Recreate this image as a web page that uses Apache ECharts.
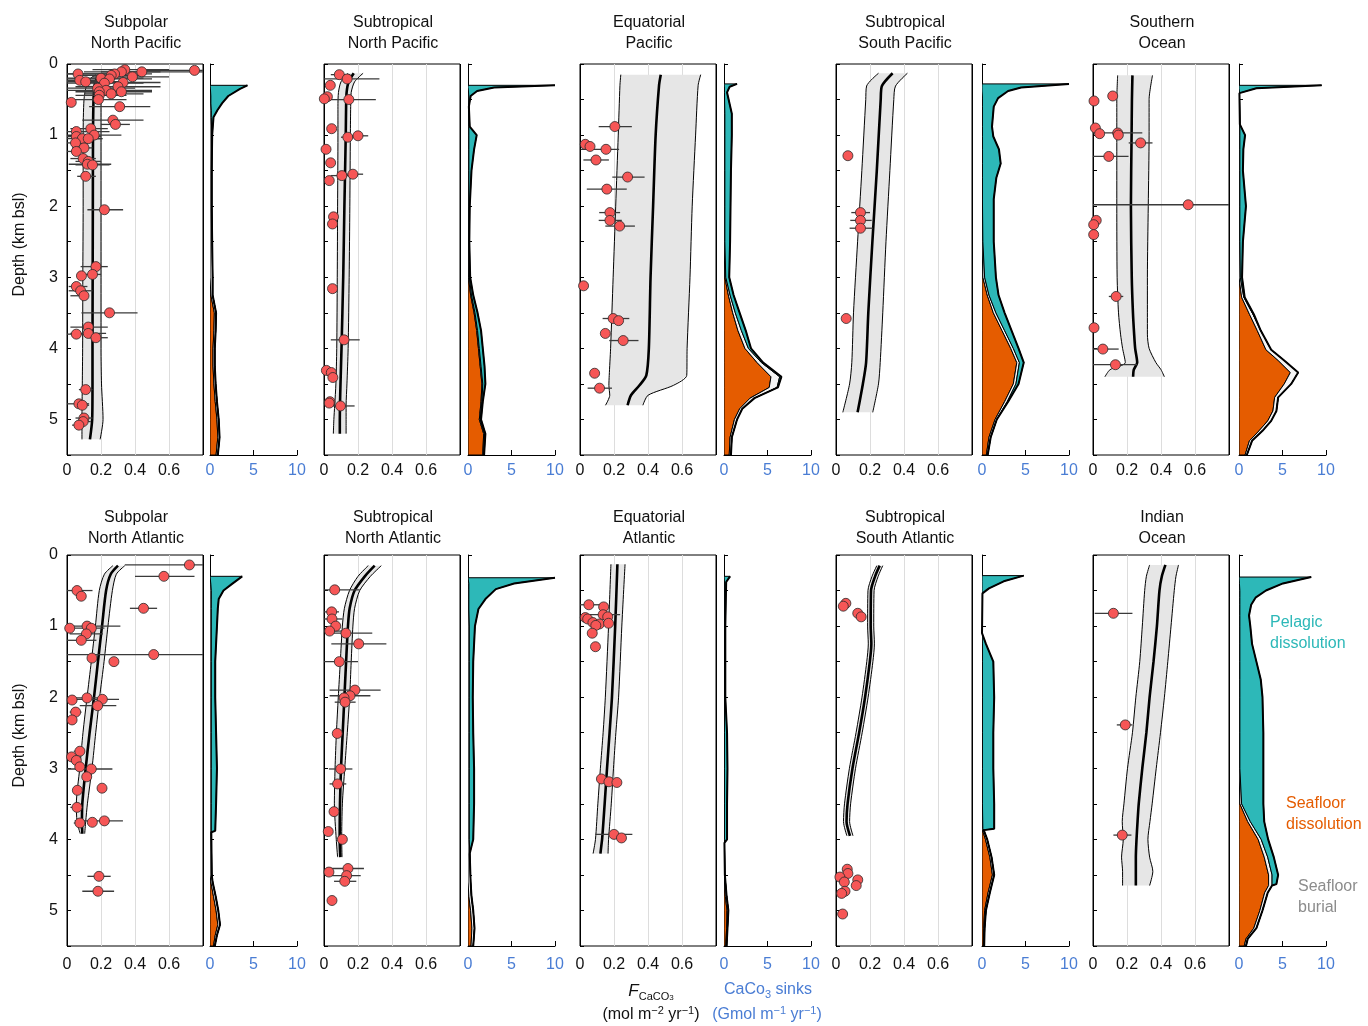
<!DOCTYPE html>
<html>
<head>
<meta charset="utf-8">
<title>CaCO3 flux and sinks by basin</title>
<script src="https://cdn.jsdelivr.net/npm/echarts@6/dist/echarts.min.js"></script>
<style>
  html, body { margin: 0; padding: 0; background: #fff; }
  #chart { width: 1368px; height: 1026px; }
</style>
</head>
<body>
<div id="chart"></div>
<script>
// flux points: [flux, depth, errLow, errHigh]  (null = no bar)
const spnpPoints = [
  [0.75, 0.09, 0.47, 0.8], [0.44, 0.11, 0.2, 0.8], [0.34, 0.08, 0.15, 0.6], [0.32, 0.11, 0.1, 0.55],
  [0.065, 0.14, 0, 0.35], [0.385, 0.18, 0.15, 0.6], [0.28, 0.14, 0, 0.5], [0.26, 0.16, 0.05, 0.45],
  [0.2, 0.2, 0, 0.45], [0.075, 0.23, 0, 0.25], [0.11, 0.25, 0, 0.3], [0.25, 0.21, 0, 0.5],
  [0.33, 0.26, 0.05, 0.55], [0.22, 0.27, 0, 0.45], [0.3, 0.32, 0.05, 0.55], [0.18, 0.34, 0, 0.4],
  [0.23, 0.37, 0, 0.5], [0.19, 0.39, 0.05, 0.35], [0.26, 0.42, 0.1, 0.45], [0.32, 0.39, 0.1, 0.5],
  [0.19, 0.44, 0.05, 0.35], [0.185, 0.5, 0, 0.35], [0.025, 0.54, null, null], [0.31, 0.6, 0.13, 0.49],
  [0.27, 0.79, 0.09, 0.45], [0.285, 0.85, 0.2, 0.37], [0.14, 0.91, 0.02, 0.24], [0.055, 0.95, 0, 0.25],
  [0.16, 1.0, 0, 0.32], [0.055, 1.02, 0, 0.2], [0.09, 1.05, 0, 0.2], [0.125, 1.05, 0.04, 0.21],
  [0.05, 1.11, 0, 0.12], [0.1, 1.18, 0.03, 0.15], [0.055, 1.23, 0, 0.1], [0.095, 1.33, 0.02, 0.17],
  [0.125, 1.37, 0.05, 0.2], [0.12, 1.41, 0.01, 0.26], [0.15, 1.42, 0.05, 0.25], [0.11, 1.58, 0.06, 0.17],
  [0.22, 2.05, 0.12, 0.33], [0.17, 2.85, 0.08, 0.24], [0.15, 2.96, 0.08, 0.2], [0.085, 2.98, null, null],
  [0.055, 3.13, 0.01, 0.12], [0.08, 3.19, 0.01, 0.15], [0.1, 3.26, 0.02, 0.12], [0.25, 3.5, 0.085, 0.415],
  [0.125, 3.7, 0.02, 0.24], [0.055, 3.8, 0, 0.1], [0.125, 3.79, 0.02, 0.23], [0.17, 3.85, 0.13, 0.24],
  [0.11, 4.58, 0.07, 0.15], [0.07, 4.78, 0, 0.13], [0.09, 4.8, 0.05, 0.13], [0.1, 4.98, 0.05, 0.15],
  [0.095, 5.03, 0.05, 0.14], [0.07, 5.08, 0.03, 0.1]
]
const stnpPoints = [
  [0.09, 0.15, 0.04, 0.155], [0.136, 0.21, 0, 0.326], [0.037, 0.3, null, null], [0.02, 0.46, null, null],
  [0.002, 0.49, null, null], [0.146, 0.5, 0, 0.305], [0.045, 0.91, null, null], [0.14, 1.03, 0.1, 0.2],
  [0.2, 1.01, 0.13, 0.26], [0.012, 1.2, null, null], [0.039, 1.39, null, null], [0.105, 1.57, 0.04, 0.2],
  [0.17, 1.55, 0.1, 0.23], [0.031, 1.64, null, null], [0.056, 2.15, 0.04, 0.08], [0.05, 2.25, null, null],
  [0.05, 3.16, null, null], [0.118, 3.88, 0.04, 0.21], [0.014, 4.31, null, null], [0.043, 4.34, null, null],
  [0.052, 4.41, null, null], [0.035, 4.75, 0.01, 0.06], [0.031, 4.77, null, null], [0.097, 4.81, 0.02, 0.18]
]
const eqpPoints = [
  [0.205, 0.88, 0.11, 0.305], [0.031, 1.13, null, null], [0.059, 1.16, null, null], [0.153, 1.2, 0.005, 0.23],
  [0.094, 1.35, 0.02, 0.17], [0.28, 1.59, 0.19, 0.38], [0.158, 1.76, 0.04, 0.275], [0.176, 2.09, 0.113, 0.236],
  [0.176, 2.2, 0.11, 0.246], [0.233, 2.28, 0.149, 0.323], [0.021, 3.12, null, null], [0.195, 3.58, 0.133, 0.29],
  [0.227, 3.61, null, null], [0.149, 3.79, 0.123, 0.168], [0.254, 3.89, 0.172, 0.344], [0.086, 4.35, 0.059, 0.11],
  [0.115, 4.56, 0.045, 0.188]
]
const stspPoints = [
  [0.07, 1.29, null, null], [0.144, 2.09, 0.09, 0.2], [0.144, 2.2, 0.084, 0.21], [0.144, 2.31, 0.08, 0.216],
  [0.06, 3.58, null, null]
]
const soPoints = [
  [0.116, 0.45, null, null], [0.006, 0.52, null, null], [0.014, 0.9, null, null], [0.039, 0.98, null, null],
  [0.145, 0.97, 0, 0.29], [0.149, 1.0, null, null], [0.28, 1.11, 0.21, 0.35], [0.093, 1.3, 0, 0.209],
  [0.56, 1.98, 0, 0.8], [0.019, 2.2, null, null], [0.004, 2.26, null, null], [0.004, 2.4, null, null],
  [0.136, 3.27, 0.093, 0.178], [0.006, 3.71, null, null], [0.058, 4.01, 0, 0.151], [0.132, 4.23, 0, 0.26]
]
const spnaPoints = [
  [0.72, 0.14, 0.34, 0.8], [0.57, 0.3, 0.4, 0.75], [0.059, 0.5, 0, 0.15], [0.084, 0.58, null, null],
  [0.45, 0.75, 0.37, 0.53], [0.016, 1.03, null, null], [0.118, 1.0, 0, 0.314], [0.143, 1.03, 0.02, 0.22],
  [0.114, 1.11, 0.016, 0.212], [0.084, 1.2, 0, 0.173], [0.51, 1.4, 0, 0.8], [0.147, 1.45, null, null],
  [0.276, 1.5, null, null], [0.03, 2.04, null, null], [0.118, 2.01, 0, 0.2], [0.208, 2.03, 0, 0.306],
  [0.18, 2.12, 0.075, 0.29], [0.051, 2.21, 0.016, 0.085], [0.03, 2.32, null, null], [0.076, 2.76, 0.04, 0.1],
  [0.027, 2.84, null, null], [0.055, 2.89, null, null], [0.075, 2.98, null, null], [0.143, 3.01, 0, 0.267],
  [0.116, 3.12, null, null], [0.061, 3.31, null, null], [0.206, 3.28, null, null], [0.059, 3.55, 0.02, 0.07],
  [0.076, 3.77, 0.04, 0.1], [0.149, 3.76, null, null], [0.22, 3.74, 0.045, 0.329], [0.188, 4.52, 0.12, 0.257],
  [0.182, 4.73, 0.09, 0.277]
]
const stnaPoints = [
  [0.063, 0.49, 0, 0.21], [0.045, 0.8, 0, 0.088], [0.047, 0.9, 0, 0.108], [0.069, 1.0, null, null],
  [0.033, 1.07, 0.004, 0.112], [0.129, 1.1, 0.014, 0.284], [0.204, 1.25, 0.043, 0.367], [0.09, 1.5, 0, 0.2],
  [0.182, 1.9, 0.033, 0.333], [0.153, 1.98, 0.033, 0.273], [0.118, 2.01, null, null], [0.124, 2.07, 0.063, 0.186],
  [0.078, 2.51, null, null], [0.098, 3.01, 0.029, 0.167], [0.08, 3.22, 0.033, 0.131], [0.059, 3.61, null, null],
  [0.025, 3.89, null, null], [0.108, 4.0, null, null], [0.141, 4.41, 0.033, 0.235], [0.029, 4.46, null, null],
  [0.133, 4.51, 0.043, 0.216], [0.122, 4.59, 0.059, 0.19], [0.047, 4.86, null, null]
]
const eqaPoints = [
  [0.052, 0.7, 0, 0.139], [0.139, 0.73, null, null], [0.136, 0.84, 0.023, 0.236], [0.163, 0.87, null, null],
  [0.031, 0.88, null, null], [0.045, 0.9, null, null], [0.076, 0.95, null, null], [0.114, 0.97, null, null],
  [0.168, 0.96, null, null], [0.093, 0.99, null, null], [0.072, 1.1, null, null], [0.091, 1.29, null, null],
  [0.126, 3.15, null, null], [0.17, 3.19, null, null], [0.217, 3.2, null, null], [0.2, 3.93, 0.091, 0.308],
  [0.244, 3.98, null, null]
]
const stsaPoints = [
  [0.058, 0.68, null, null], [0.043, 0.72, null, null], [0.128, 0.82, null, null], [0.148, 0.87, null, null],
  [0.066, 4.42, null, null], [0.07, 4.48, null, null], [0.023, 4.53, null, null], [0.128, 4.57, null, null],
  [0.049, 4.6, null, null], [0.119, 4.65, null, null], [0.053, 4.73, null, null], [0.033, 4.76, null, null],
  [0.039, 5.05, null, null]
]
const ioPoints = [
  [0.12, 0.82, 0.01, 0.232], [0.19, 2.39, 0.14, 0.232], [0.172, 3.94, 0.12, 0.226]
]

// model flux envelope: [depth, low, median, high]
const spnpBand = [
  [0.15, 0.17, 0.19, 0.22], [0.2, 0.14, 0.175, 0.212], [0.3, 0.115, 0.162, 0.205], [0.5, 0.1, 0.156, 0.2],
  [1.0, 0.095, 0.153, 0.2], [2.0, 0.095, 0.152, 0.2], [3.0, 0.093, 0.151, 0.2], [4.0, 0.092, 0.15, 0.2],
  [4.5, 0.09, 0.15, 0.203], [5.0, 0.088, 0.148, 0.212], [5.28, 0.088, 0.135, 0.195]
]
const stnpBand = [
  [0.13, 0.14, 0.175, 0.23], [0.25, 0.1, 0.145, 0.18], [0.4, 0.085, 0.133, 0.16], [0.6, 0.082, 0.13, 0.157],
  [1.0, 0.082, 0.128, 0.155], [2.0, 0.08, 0.12, 0.152], [3.0, 0.078, 0.113, 0.148], [4.0, 0.075, 0.103, 0.142],
  [4.5, 0.07, 0.097, 0.135], [4.8, 0.063, 0.094, 0.13], [5.0, 0.058, 0.093, 0.13], [5.2, 0.055, 0.093, 0.13]
]
const eqpBand = [
  [0.15, 0.24, 0.475, 0.71], [0.3, 0.235, 0.465, 0.695], [1.0, 0.225, 0.445, 0.68], [2.0, 0.21, 0.43, 0.66],
  [3.0, 0.195, 0.415, 0.647], [4.0, 0.18, 0.405, 0.63], [4.38, 0.172, 0.39, 0.628], [4.52, 0.17, 0.35, 0.55],
  [4.66, 0.175, 0.3, 0.4], [4.8, 0.15, 0.28, 0.37]
]
const stspBand = [
  [0.13, 0.25, 0.333, 0.42], [0.31, 0.18, 0.27, 0.35], [0.5, 0.175, 0.263, 0.34], [1.5, 0.152, 0.24, 0.317],
  [2.5, 0.127, 0.214, 0.294], [3.5, 0.103, 0.19, 0.275], [4.2, 0.093, 0.177, 0.26], [4.5, 0.08, 0.158, 0.25],
  [4.9, 0.04, 0.127, 0.216]
]
const soBand = [
  [0.16, 0.145, 0.232, 0.35], [0.5, 0.14, 0.229, 0.33], [1.0, 0.14, 0.227, 0.33], [2.0, 0.14, 0.223, 0.325],
  [3.0, 0.142, 0.228, 0.32], [3.5, 0.15, 0.235, 0.32], [3.8, 0.162, 0.242, 0.32], [4.0, 0.174, 0.248, 0.33],
  [4.2, 0.19, 0.26, 0.37], [4.3, 0.1, 0.24, 0.4], [4.4, 0.07, 0.236, 0.42]
]
const spnaBand = [
  [0.15, 0.27, 0.3, 0.34], [0.27, 0.22, 0.257, 0.29], [0.5, 0.19, 0.23, 0.267], [1.0, 0.167, 0.206, 0.241],
  [1.5, 0.143, 0.182, 0.218], [2.0, 0.118, 0.159, 0.192], [2.5, 0.094, 0.133, 0.169], [3.0, 0.075, 0.11, 0.147],
  [3.5, 0.055, 0.09, 0.12], [3.75, 0.059, 0.088, 0.11], [3.92, 0.078, 0.09, 0.104]
]
const stnaBand = [
  [0.15, 0.26, 0.298, 0.337], [0.3, 0.2, 0.24, 0.273], [0.5, 0.15, 0.18, 0.21], [0.75, 0.12, 0.151, 0.18],
  [1.0, 0.108, 0.141, 0.17], [1.5, 0.096, 0.13, 0.16], [2.0, 0.084, 0.12, 0.151], [2.5, 0.073, 0.11, 0.137],
  [3.0, 0.065, 0.1, 0.122], [3.5, 0.061, 0.094, 0.108], [4.0, 0.072, 0.092, 0.104], [4.25, 0.08, 0.096, 0.106]
]
const eqaBand = [
  [0.13, 0.182, 0.22, 0.265], [1.0, 0.168, 0.207, 0.246], [2.0, 0.149, 0.188, 0.227], [2.5, 0.136, 0.174, 0.211],
  [3.0, 0.12, 0.159, 0.197], [3.5, 0.105, 0.145, 0.184], [4.0, 0.091, 0.13, 0.168], [4.2, 0.077, 0.12, 0.165]
]
const stsaBand = [
  [0.15, 0.24, 0.257, 0.275], [0.3, 0.212, 0.23, 0.248], [0.5, 0.188, 0.206, 0.224], [1.0, 0.186, 0.204, 0.222],
  [1.25, 0.19, 0.208, 0.226], [1.5, 0.181, 0.199, 0.217], [2.0, 0.153, 0.171, 0.189], [2.5, 0.118, 0.136, 0.154],
  [3.0, 0.079, 0.097, 0.115], [3.5, 0.05, 0.068, 0.086], [3.75, 0.044, 0.062, 0.08], [3.95, 0.064, 0.082, 0.1]
]
const ioBand = [
  [0.14, 0.333, 0.426, 0.503], [0.3, 0.314, 0.405, 0.488], [0.5, 0.304, 0.391, 0.478], [1.0, 0.29, 0.376, 0.459],
  [1.5, 0.275, 0.356, 0.44], [2.0, 0.252, 0.333, 0.42], [2.5, 0.232, 0.314, 0.397], [3.0, 0.203, 0.29, 0.372],
  [3.5, 0.182, 0.269, 0.348], [3.75, 0.172, 0.262, 0.335], [4.0, 0.178, 0.256, 0.323], [4.25, 0.168, 0.252, 0.333],
  [4.45, 0.174, 0.252, 0.352], [4.65, 0.174, 0.252, 0.333]
]

// CaCO3 sinks: [depth, seafloor dissolution, seafloor burial, pelagic dissolution]
const spnpSinks = [
  [0.3, 0, 0, 4.3], [0.35, 0, 0.05, 3.4], [0.45, 0, 0.1, 2.0], [0.55, 0, 0.1, 1.3], [0.65, 0, 0.15, 0.7],
  [0.75, 0, 0.15, 0.25], [1.0, 0, 0.2, 0.05], [1.5, 0, 0.2, 0], [2.0, 0, 0.2, 0], [2.5, 0, 0.25, 0],
  [3.0, 0, 0.3, 0], [3.25, 0.1, 0.2, 0], [3.5, 0.5, 0.2, 0], [3.75, 0.45, 0.2, 0], [4.0, 0.35, 0.2, 0],
  [4.25, 0.35, 0.2, 0], [4.5, 0.45, 0.2, 0], [4.75, 0.6, 0.2, 0], [5.0, 0.8, 0.2, 0], [5.25, 0.9, 0.2, 0],
  [5.5, 0.7, 0.2, 0]
]
const stnpSinks = [
  [0.3, 0, 0, 10], [0.33, 0, 0, 3.0], [0.38, 0, 0.05, 1.0], [0.45, 0, 0.1, 0.2], [0.6, 0, 0.1, 0],
  [0.88, 0, 0.1, 0.1], [1.0, 0, 0.1, 0.9], [1.2, 0, 0.1, 0.6], [1.5, 0, 0.1, 0.3], [2.0, 0, 0.1, 0.1],
  [2.5, 0, 0.1, 0.05], [3.0, 0.05, 0.1, 0.1], [3.25, 0.3, 0.1, 0.2], [3.5, 0.7, 0.1, 0.3], [3.75, 1.0, 0.1, 0.4],
  [4.0, 1.2, 0.1, 0.4], [4.25, 1.4, 0.1, 0.4], [4.5, 1.6, 0.1, 0.3], [4.75, 1.5, 0.1, 0.1], [5.0, 1.3, 0.1, 0.1],
  [5.2, 1.8, 0.1, 0.1], [5.5, 1.7, 0.1, 0.05]
]
const eqpSinks = [
  [0.28, 0, 0, 1.5], [0.32, 0, 0.05, 0.6], [0.4, 0, 0.05, 0.3], [0.7, 0, 0.1, 0.8], [1.0, 0, 0.1, 0.8],
  [1.5, 0, 0.1, 0.7], [2.0, 0, 0.1, 0.65], [2.5, 0, 0.1, 0.6], [3.0, 0.1, 0.1, 0.4], [3.25, 0.5, 0.2, 0.4],
  [3.5, 1.0, 0.3, 0.5], [3.75, 1.6, 0.4, 0.5], [4.0, 2.4, 0.4, 0.3], [4.2, 3.8, 0.5, 0.2], [4.4, 5.4, 1.0, 0.2],
  [4.55, 5.2, 0.9, 0.1], [4.7, 3.0, 0.5, 0], [4.85, 1.8, 0.3, 0], [5.0, 1.2, 0.3, 0], [5.25, 0.7, 0.2, 0],
  [5.5, 0.6, 0.2, 0]
]
const stspSinks = [
  [0.28, 0, 0, 10], [0.33, 0, 0, 4.5], [0.38, 0, 0, 3.0], [0.48, 0, 0.05, 1.8], [0.6, 0, 0.05, 1.3],
  [0.88, 0, 0.05, 1.1], [1.02, 0, 0.05, 1.25], [1.2, 0, 0.05, 1.9], [1.4, 0, 0.05, 2.1], [1.6, 0, 0.05, 1.6],
  [1.9, 0, 0.05, 1.3], [2.5, 0, 0.1, 1.25], [3.0, 0.1, 0.2, 1.3], [3.25, 0.6, 0.2, 1.1], [3.5, 1.3, 0.3, 1.0],
  [3.75, 2.3, 0.3, 0.8], [4.0, 3.3, 0.3, 0.6], [4.2, 4.0, 0.3, 0.5], [4.5, 3.6, 0.3, 0.3], [4.75, 2.6, 0.3, 0.1],
  [5.0, 1.5, 0.2, 0], [5.25, 0.8, 0.2, 0], [5.5, 0.5, 0.15, 0]
]
const soSinks = [
  [0.3, 0, 0, 9.5], [0.34, 0, 0, 2.0], [0.41, 0, 0.05, 0], [0.85, 0, 0.1, 0], [1.0, 0, 0.1, 0.6],
  [1.2, 0, 0.1, 0.4], [1.5, 0, 0.1, 0.35], [2.0, 0, 0.1, 0.7], [2.5, 0, 0.1, 0.35], [3.0, 0, 0.15, 0.2],
  [3.28, 0.3, 0.25, 0.1], [3.52, 1.2, 0.4, 0.1], [3.75, 2.1, 0.4, 0], [4.02, 3.1, 0.6, 0], [4.17, 4.5, 0.7, 0],
  [4.34, 5.9, 0.9, 0], [4.5, 5.2, 0.8, 0], [4.69, 4.1, 0.4, 0], [4.88, 3.9, 0.4, 0], [5.02, 3.3, 0.4, 0],
  [5.16, 2.3, 0.4, 0], [5.3, 1.2, 0.3, 0], [5.5, 0.7, 0.2, 0]
]
const spnaSinks = [
  [0.3, 0, 0, 3.7], [0.41, 0, 0.1, 2.4], [0.5, 0, 0.15, 1.4], [0.62, 0, 0.15, 0.85], [0.75, 0, 0.15, 0.75],
  [1.0, 0, 0.15, 0.65], [1.5, 0, 0.15, 0.45], [2.0, 0, 0.15, 0.45], [2.5, 0, 0.15, 0.55], [3.0, 0, 0.15, 0.65],
  [3.5, 0, 0.15, 0.55], [3.88, 0, 0.15, 0.45], [3.9, 0, 0.15, 0], [4.5, 0, 0.2, 0], [4.6, 0.1, 0.2, 0],
  [4.8, 0.4, 0.25, 0], [5.0, 0.7, 0.25, 0], [5.2, 0.9, 0.25, 0], [5.35, 0.6, 0.2, 0], [5.5, 0.4, 0.15, 0]
]
const stnaSinks = [
  [0.32, 0, 0, 10], [0.4, 0, 0.1, 5.2], [0.48, 0, 0.1, 3.1], [0.62, 0, 0.1, 1.9], [0.76, 0, 0.1, 1.1],
  [1.0, 0, 0.15, 0.65], [1.5, 0, 0.15, 0.45], [2.0, 0, 0.15, 0.4], [2.5, 0, 0.15, 0.45], [3.0, 0, 0.15, 0.55],
  [3.5, 0, 0.15, 0.55], [4.0, 0, 0.15, 0.45], [4.2, 0, 0.2, 0], [4.6, 0, 0.3, 0], [4.8, 0.1, 0.3, 0],
  [5.0, 0.3, 0.3, 0], [5.25, 0.45, 0.3, 0], [5.5, 0.35, 0.25, 0]
]
const eqaSinks = [
  [0.3, 0, 0, 0.7], [0.38, 0, 0.05, 0.2], [1.0, 0, 0.05, 0.1], [2.0, 0, 0.05, 0.1], [2.5, 0, 0.05, 0.3],
  [3.0, 0, 0.05, 0.35], [3.5, 0, 0.05, 0.3], [4.0, 0, 0.05, 0.3], [4.05, 0, 0.05, 0], [4.5, 0, 0.1, 0],
  [4.8, 0.15, 0.15, 0], [5.0, 0.35, 0.15, 0], [5.25, 0.3, 0.1, 0], [5.5, 0.2, 0.1, 0]
]
const stsaSinks = [
  [0.29, 0, 0, 4.8], [0.37, 0, 0, 2.5], [0.47, 0, 0, 0.8], [0.54, 0, 0, 0.05], [1.1, 0, 0, 0],
  [1.25, 0, 0.05, 0.4], [1.5, 0, 0.05, 1.25], [2.0, 0, 0.05, 1.35], [2.5, 0, 0.05, 1.25], [3.0, 0, 0.05, 1.25],
  [3.5, 0, 0.05, 1.35], [3.85, 0, 0.1, 1.3], [3.87, 0.05, 0.15, 0], [4.0, 0.4, 0.2, 0], [4.25, 0.9, 0.2, 0],
  [4.5, 1.2, 0.2, 0], [4.75, 0.7, 0.2, 0], [5.0, 0.3, 0.15, 0], [5.25, 0.2, 0.1, 0], [5.5, 0.15, 0.1, 0]
]
const ioSinks = [
  [0.31, 0, 0, 8.3], [0.4, 0, 0.05, 5.0], [0.5, 0, 0.1, 3.0], [0.6, 0, 0.1, 1.8], [0.7, 0, 0.1, 1.3],
  [0.85, 0, 0.1, 1.05], [1.0, 0, 0.1, 1.2], [1.25, 0, 0.1, 1.4], [1.5, 0, 0.1, 1.9], [1.75, 0, 0.1, 2.4],
  [2.0, 0, 0.1, 2.6], [2.5, 0, 0.1, 2.7], [3.0, 0, 0.1, 2.7], [3.5, 0.1, 0.2, 2.5], [3.75, 1.0, 0.3, 1.6],
  [4.0, 2.2, 0.35, 0.8], [4.25, 2.9, 0.4, 0.7], [4.5, 3.4, 0.4, 0.7], [4.63, 3.4, 0.4, 0.5], [4.65, 3.4, 0.4, 0],
  [4.75, 2.95, 0.35, 0], [5.0, 2.4, 0.3, 0], [5.25, 1.7, 0.3, 0], [5.4, 0.8, 0.2, 0], [5.5, 0.6, 0.2, 0]
]

const panels = [
  { title: 'Subpolar\nNorth Pacific', points: spnpPoints, band: spnpBand, sinks: spnpSinks },
  { title: 'Subtropical\nNorth Pacific', points: stnpPoints, band: stnpBand, sinks: stnpSinks },
  { title: 'Equatorial\nPacific', points: eqpPoints, band: eqpBand, sinks: eqpSinks },
  { title: 'Subtropical\nSouth Pacific', points: stspPoints, band: stspBand, sinks: stspSinks },
  { title: 'Southern\nOcean', points: soPoints, band: soBand, sinks: soSinks },
  { title: 'Subpolar\nNorth Atlantic', points: spnaPoints, band: spnaBand, sinks: spnaSinks },
  { title: 'Subtropical\nNorth Atlantic', points: stnaPoints, band: stnaBand, sinks: stnaSinks },
  { title: 'Equatorial\nAtlantic', points: eqaPoints, band: eqaBand, sinks: eqaSinks },
  { title: 'Subtropical\nSouth Atlantic', points: stsaPoints, band: stsaBand, sinks: stsaSinks },
  { title: 'Indian\nOcean', points: ioPoints, band: ioBand, sinks: ioSinks }
]

const FONT = '"Liberation Sans", Arial, Helvetica, sans-serif'
const TEAL = '#2db8b8'
const ORANGE = '#e55c00'
const BLUE = '#4a7dd4'
const leftX = [67, 324, 580, 836, 1093]
const rightX = [210, 468, 724, 982, 1239]
const rowTop = [64, 555]
const titleY = [33, 528]
const labelGap = [8, 11]
const plotH = 391
const leftW = 136
const rightW = 87

const grid = []
const xAxis = []
const yAxis = []
const series = []
const graphic = []

// polygon between two x-profiles of a depth table
const profilePolygon = (rows, lowFn, highFn, fill, z, idx) => ({
  type: 'custom',
  xAxisIndex: idx,
  yAxisIndex: idx,
  data: [[0, 0]],
  silent: true,
  z: z,
  clip: true,
  renderItem: (params, api) => {
    const upper = rows.map((r) => api.coord([highFn(r), r[0]]))
    const lower = rows.slice().reverse().map((r) => api.coord([lowFn(r), r[0]]))
    return {
      type: 'polygon',
      shape: { points: upper.concat(lower) },
      style: { fill: fill, stroke: '#000', lineWidth: 1 }
    }
  }
})

panels.forEach((p, i) => {
  const row = Math.floor(i / 5)
  const col = i % 5
  const L = 2 * i
  const R = 2 * i + 1

  grid.push({
    left: leftX[col], top: rowTop[row], width: leftW, height: plotH,
    show: true, borderColor: '#000', borderWidth: 1, backgroundColor: 'transparent',
    containLabel: false, outerBoundsMode: 'none'
  })
  grid.push({
    left: rightX[col], top: rowTop[row], width: rightW, height: plotH,
    containLabel: false, outerBoundsMode: 'none'
  })

  xAxis.push({
    gridIndex: L, type: 'value', min: 0, max: 0.8, interval: 0.2, position: 'bottom',
    axisLine: { show: false, onZero: false },
    axisTick: { show: false },
    axisLabel: {
      color: '#111', fontSize: 16, fontFamily: FONT, margin: labelGap[row],
      formatter: (v) => (v > 0.7 ? '' : v === 0 ? '0' : v.toFixed(1))
    },
    splitLine: { show: true, lineStyle: { color: ['#000', '#dddddd', '#dddddd', '#dddddd', '#000'], width: 1 } }
  })
  xAxis.push({
    gridIndex: R, type: 'value', min: 0, max: 10, interval: 5, position: 'bottom',
    axisLine: { show: true, onZero: false, lineStyle: { color: '#000', width: 1 } },
    axisTick: { show: true, inside: true, length: 5, lineStyle: { color: '#000' } },
    axisLabel: { color: BLUE, fontSize: 16, fontFamily: FONT, margin: labelGap[row] },
    splitLine: { show: false }
  })

  yAxis.push({
    gridIndex: L, type: 'value', inverse: true, min: 0, max: 5.5, interval: 0.5,
    axisLine: { show: false, onZero: false },
    axisTick: { show: true, inside: true, length: 4, lineStyle: { color: '#000' } },
    axisLabel: {
      show: col === 0, color: '#111', fontSize: 16, fontFamily: FONT, margin: 9,
      formatter: (v) => (v % 1 === 0 ? String(v) : '')
    },
    splitLine: { show: false }
  })
  yAxis.push({
    gridIndex: R, type: 'value', inverse: true, min: 0, max: 5.5, interval: 0.5,
    axisLine: { show: true, onZero: false, lineStyle: { color: '#000', width: 1 } },
    axisTick: { show: true, inside: true, length: 4, lineStyle: { color: '#000' } },
    axisLabel: { show: false },
    splitLine: { show: false }
  })

  // flux envelope
  series.push({
    type: 'custom', xAxisIndex: L, yAxisIndex: L, data: [[0, 0]], silent: true, z: 1, clip: true,
    renderItem: (params, api) => {
      const upper = p.band.map((r) => api.coord([r[3], r[0]]))
      const lower = p.band.slice().reverse().map((r) => api.coord([r[1], r[0]]))
      return { type: 'polygon', shape: { points: upper.concat(lower) }, style: { fill: '#e6e6e6' } }
    }
  })
  ;[1, 2, 3].forEach((k) => {
    series.push({
      type: 'line', xAxisIndex: L, yAxisIndex: L, silent: true, z: 2,
      showSymbol: false, smooth: 0.25, animation: false,
      data: p.band.map((r) => [r[k], r[0]]),
      lineStyle: { color: '#000', width: k === 2 ? 2.6 : 1 }
    })
  })

  // error bars
  series.push({
    type: 'custom', xAxisIndex: L, yAxisIndex: L, silent: true, z: 3, clip: true,
    encode: { x: 0, y: 1 },
    data: p.points.filter((d) => d[2] !== null),
    renderItem: (params, api) => {
      const a = api.coord([api.value(2), api.value(1)])
      const b = api.coord([api.value(3), api.value(1)])
      return {
        type: 'line',
        shape: { x1: a[0], y1: a[1], x2: b[0], y2: b[1] },
        style: { stroke: '#3a3a3a', lineWidth: 1.3 }
      }
    }
  })

  series.push({
    type: 'scatter', xAxisIndex: L, yAxisIndex: L, z: 4, silent: true,
    symbolSize: 10,
    data: p.points.map((d) => [d[0], d[1]]),
    itemStyle: { color: '#f65656', borderColor: '#2b2b2b', borderWidth: 0.8, opacity: 1 }
  })

  // CaCO3 sinks, stacked from the axis: seafloor dissolution, burial, pelagic dissolution
  series.push(profilePolygon(p.sinks, () => 0, (r) => r[1], ORANGE, 1, R))
  series.push(profilePolygon(p.sinks, (r) => r[1], (r) => r[1] + r[2], '#f4f4f4', 2, R))
  series.push(profilePolygon(p.sinks, (r) => r[1] + r[2], (r) => r[1] + r[2] + r[3], TEAL, 3, R))
  series.push({
    type: 'line', xAxisIndex: R, yAxisIndex: R, silent: true, z: 4,
    showSymbol: false, animation: false,
    data: p.sinks.map((r) => [r[1] + r[2] + r[3], r[0]]),
    lineStyle: { color: '#000', width: 2 }
  })

  graphic.push({
    type: 'text',
    x: leftX[col] + leftW / 2 + 1,
    y: titleY[row],
    style: {
      text: p.title, fill: '#111', fontSize: 16, fontFamily: FONT,
      lineHeight: 21, align: 'center', verticalAlign: 'middle'
    }
  })
})

;[rowTop[0] + plotH / 2 - 15, rowTop[1] + plotH / 2 - 15].forEach((y) => {
  graphic.push({
    type: 'text', x: 20, y: y, rotation: Math.PI / 2,
    style: { text: 'Depth (km bsl)', fill: '#111', fontSize: 16, fontFamily: FONT, align: 'center', verticalAlign: 'middle' }
  })
})

graphic.push(
  {
    type: 'text', x: 651, y: 991,
    style: {
      text: '{f|F}{s|CaCO}{t|3}', align: 'center', verticalAlign: 'middle', fill: '#111',
      rich: {
        f: { fontSize: 17, fontStyle: 'italic', fontFamily: FONT, lineHeight: 22, fill: '#111' },
        s: { fontSize: 11, fontFamily: FONT, lineHeight: 13, verticalAlign: 'bottom', fill: '#111' },
        t: { fontSize: 8, fontFamily: FONT, lineHeight: 9, verticalAlign: 'bottom', fill: '#111' }
      }
    }
  },
  {
    type: 'text', x: 651, y: 1015,
    style: {
      text: '{a|(mol m}{b|−2}{a| yr}{b|−1}{a|)}', align: 'center', verticalAlign: 'middle',
      rich: {
        a: { fontSize: 16, fontFamily: FONT, lineHeight: 20, fill: '#111' },
        b: { fontSize: 11, fontFamily: FONT, lineHeight: 12, verticalAlign: 'top', fill: '#111' }
      }
    }
  },
  {
    type: 'text', x: 768, y: 990,
    style: {
      text: '{a|CaCo}{c|3}{a| sinks}', align: 'center', verticalAlign: 'middle',
      rich: {
        a: { fontSize: 16, fontFamily: FONT, lineHeight: 20, fill: BLUE },
        c: { fontSize: 11, fontFamily: FONT, lineHeight: 12, verticalAlign: 'bottom', fill: BLUE }
      }
    }
  },
  {
    type: 'text', x: 767, y: 1015,
    style: {
      text: '{a|(Gmol m}{b|−1}{a| yr}{b|−1}{a|)}', align: 'center', verticalAlign: 'middle',
      rich: {
        a: { fontSize: 16, fontFamily: FONT, lineHeight: 20, fill: BLUE },
        b: { fontSize: 11, fontFamily: FONT, lineHeight: 12, verticalAlign: 'top', fill: BLUE }
      }
    }
  },
  {
    type: 'text', x: 1270, y: 633,
    style: { text: 'Pelagic\ndissolution', fill: TEAL, fontSize: 16, fontFamily: FONT, lineHeight: 21, align: 'left', verticalAlign: 'middle' }
  },
  {
    type: 'text', x: 1286, y: 814,
    style: { text: 'Seafloor\ndissolution', fill: ORANGE, fontSize: 16, fontFamily: FONT, lineHeight: 21, align: 'left', verticalAlign: 'middle' }
  },
  {
    type: 'text', x: 1298, y: 897,
    style: { text: 'Seafloor\nburial', fill: '#8c8c8c', fontSize: 16, fontFamily: FONT, lineHeight: 21, align: 'left', verticalAlign: 'middle' }
  }
)

const chart = echarts.init(document.getElementById('chart'), null, { renderer: 'canvas' })
chart.setOption({
  backgroundColor: '#fff',
  animation: false,
  grid: grid,
  xAxis: xAxis,
  yAxis: yAxis,
  series: series,
  graphic: graphic
})
window.addEventListener('resize', () => chart.resize())
</script>
</body>
</html>
